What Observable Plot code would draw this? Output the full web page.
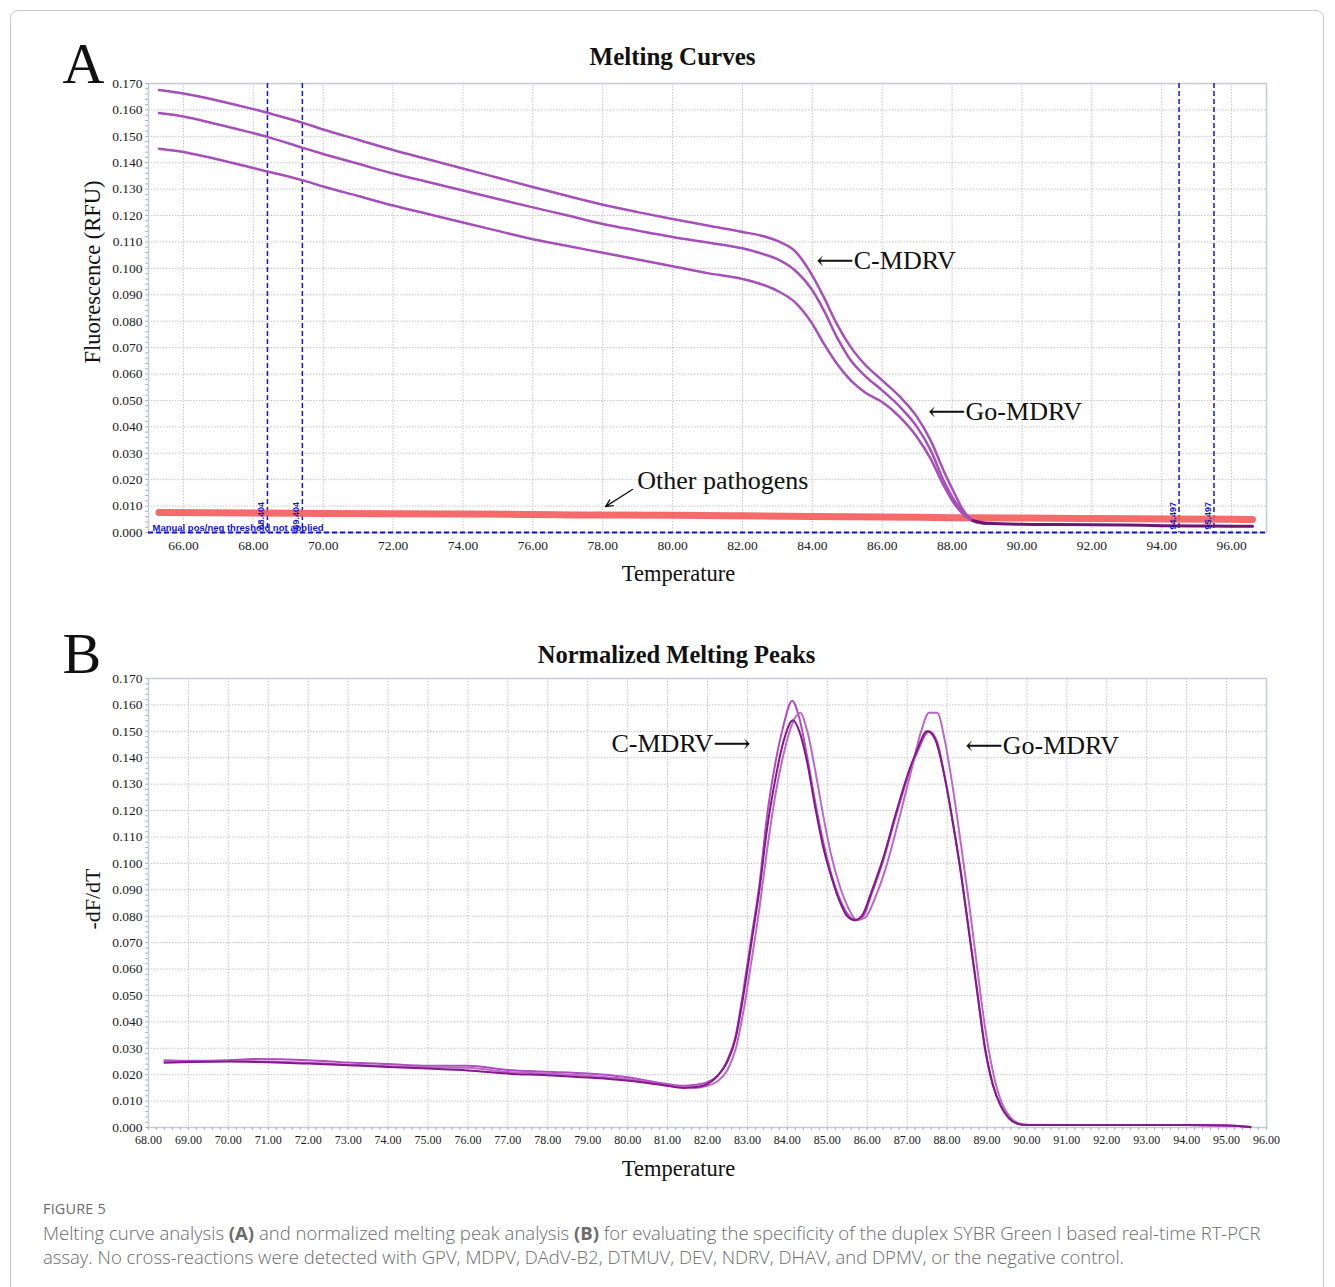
<!DOCTYPE html>
<html>
<head>
<meta charset="utf-8">
<script src="https://cdn.jsdelivr.net/npm/d3@7"></script>
<script src="https://cdn.jsdelivr.net/npm/@observablehq/plot@0.6"></script>
<style>
  html, body { margin: 0; padding: 0; background: #fff; }
  #wrap { position: relative; width: 1335px; height: 1287px; overflow: hidden; background: #fff; }
  #border { position: absolute; left: 10px; top: 10px; width: 1314px; height: 1320px; border: 1px solid #c9c9c9; border-radius: 8px; box-sizing: border-box; }
  .panel { position: absolute; left: 0; }
  #caption { position: absolute; left: 43px; top: 1199px; width: 1285px; font-family: "Open Sans", "Noto Sans", sans-serif; color: #6b6b6b; }
  #caption .fig { font-size: 14.4px; letter-spacing: 0.2px; line-height: 20px; }
  #caption p { margin: 2px 0 0 0; font-size: 18.5px; font-weight: 300; line-height: 24px; white-space: nowrap; }
  #caption b { font-weight: 700; }
</style>
</head>
<body>
<div id="wrap">
  <div id="border"></div>
  <div id="panelA" class="panel" style="top:0px"></div>
  <div id="panelB" class="panel" style="top:600px"></div>
  <div id="caption">
    <div class="fig">FIGURE 5</div>
    <p>Melting curve analysis <b>(A)</b> and normalized melting peak analysis <b>(B)</b> for evaluating the specificity of the duplex SYBR Green I based real-time RT-PCR<br>assay. No cross-reactions were detected with GPV, MDPV, DAdV-B2, DTMUV, DEV, NDRV, DHAV, and DPMV, or the negative control.</p>
  </div>
</div>
<script>
// ---------------- DATA ----------------
// Panel A: melting curves (temperature, fluorescence RFU)
const tA = [65.3, 66, 67, 68, 68.4, 69.4, 70, 71, 72, 73, 74, 75, 76, 77, 78, 79, 80, 81, 82, 82.5, 83, 83.5, 84, 84.33, 84.7, 85.1, 85.5, 86, 86.5, 87, 87.4, 87.75, 88.1, 88.3, 88.5, 88.7, 89.0];
const vA1 = [0.1675, 0.1662, 0.1635, 0.1603, 0.1589, 0.1552, 0.1526, 0.1487, 0.1448, 0.1413, 0.1378, 0.1343, 0.1308, 0.1274, 0.1241, 0.1213, 0.1187, 0.1162, 0.1138, 0.1125, 0.1104, 0.1066, 0.0973, 0.0891, 0.0790, 0.0702, 0.0637, 0.0576, 0.0515, 0.0437, 0.0345, 0.0237, 0.0140, 0.0088, 0.0055, 0.0040, 0.0033];
const vA2 = [0.1588, 0.1575, 0.1545, 0.1512, 0.1498, 0.1457, 0.1433, 0.1396, 0.1359, 0.1327, 0.1295, 0.1263, 0.1231, 0.1200, 0.1168, 0.1143, 0.1119, 0.1098, 0.1076, 0.1058, 0.1035, 0.0993, 0.0917, 0.0841, 0.0741, 0.0652, 0.0594, 0.0538, 0.0477, 0.0399, 0.0308, 0.0199, 0.0115, 0.0080, 0.0054, 0.0040, 0.0033];
const vA3 = [0.1453, 0.1441, 0.1412, 0.1380, 0.1367, 0.1334, 0.1310, 0.1274, 0.1238, 0.1206, 0.1174, 0.1142, 0.1110, 0.1085, 0.1059, 0.1034, 0.1008, 0.0982, 0.0960, 0.0942, 0.0915, 0.0872, 0.0790, 0.0715, 0.0640, 0.0576, 0.0531, 0.0494, 0.0438, 0.0361, 0.0276, 0.0180, 0.0102, 0.0072, 0.0050, 0.0038, 0.0033];
// Panel A: melted tail (all positive samples overlapping)
const tTail = [88.6, 89.0, 90, 91, 92, 93, 94, 95, 96, 96.6];
const vTail = [0.0045, 0.0035, 0.0031, 0.0030, 0.0029, 0.0028, 0.0026, 0.0025, 0.0024, 0.0024];
// Panel A: other pathogens / negative control (red band)
const tOther = [65.3, 68, 70, 72, 74, 76, 78, 80, 82, 84, 86, 88, 90, 92, 94, 96, 96.6];
const vOther = [0.0076, 0.0074, 0.0072, 0.0071, 0.0070, 0.0068, 0.0066, 0.0065, 0.0063, 0.0061, 0.0059, 0.0056, 0.0055, 0.0053, 0.0051, 0.0050, 0.0049];
// Panel A: threshold markers
const thresholdTemps = [68.404, 69.404, 94.497, 95.497];
const thresholdLabels = ["68.404", "69.404", "94.497", "95.497"];

// Panel B: normalized melting peaks (-dF/dT)
const tB1 = [68.4, 69, 70, 70.6, 72, 73, 74, 75, 76, 77, 78, 79, 79.9, 80.9, 81.4, 81.7, 82.0, 82.25, 82.5, 82.7, 82.9, 83.1, 83.3, 83.5, 83.7, 83.9, 84.12, 84.3, 84.5, 84.7, 84.9, 85.1, 85.3, 85.5, 85.7, 85.9, 86.1, 86.4, 86.7, 87.0, 87.25, 87.55, 87.75, 87.95, 88.15, 88.35, 88.55, 88.75, 88.95, 89.15, 89.35, 89.55, 89.75, 90.0, 91, 92, 93, 94, 95, 95.3, 95.6];
const vB1 = [0.0255, 0.0253, 0.0255, 0.0259, 0.0255, 0.0246, 0.0240, 0.0234, 0.0234, 0.0218, 0.0211, 0.0204, 0.0192, 0.0167, 0.0158, 0.0162, 0.0172, 0.0195, 0.0256, 0.0344, 0.0520, 0.0720, 0.0920, 0.1190, 0.1380, 0.1520, 0.1616, 0.1550, 0.1400, 0.1230, 0.1080, 0.0960, 0.0870, 0.0810, 0.0785, 0.0800, 0.0880, 0.1010, 0.1170, 0.1320, 0.1420, 0.1500, 0.1460, 0.1320, 0.1150, 0.0960, 0.0740, 0.0520, 0.0300, 0.0160, 0.0080, 0.0035, 0.0015, 0.0009, 0.0009, 0.0009, 0.0009, 0.0009, 0.0008, 0.0006, 0.0002];
const tB2 = [68.4, 69, 70, 71, 72, 73, 74, 75, 76, 77, 78, 79, 79.9, 80.9, 81.4, 81.7, 82.0, 82.25, 82.5, 82.7, 82.9, 83.1, 83.3, 83.5, 83.7, 83.9, 84.1, 84.32, 84.5, 84.7, 84.9, 85.1, 85.3, 85.5, 85.75, 85.95, 86.2, 86.5, 86.8, 87.1, 87.35, 87.55, 87.75, 87.95, 88.15, 88.35, 88.55, 88.75, 88.95, 89.15, 89.35, 89.55, 89.75, 90.0, 91, 92, 93, 94, 95, 95.3, 95.6];
const vB2 = [0.0249, 0.0249, 0.0252, 0.0250, 0.0245, 0.0238, 0.0232, 0.0228, 0.0226, 0.0210, 0.0204, 0.0196, 0.0185, 0.0163, 0.0152, 0.0150, 0.0158, 0.0175, 0.0218, 0.0294, 0.0440, 0.0630, 0.0830, 0.1060, 0.1260, 0.1410, 0.1520, 0.1570, 0.1500, 0.1350, 0.1180, 0.1030, 0.0920, 0.0840, 0.0785, 0.0795, 0.0870, 0.1000, 0.1170, 0.1350, 0.1500, 0.1570, 0.1570, 0.1460, 0.1280, 0.1070, 0.0850, 0.0610, 0.0380, 0.0210, 0.0100, 0.0045, 0.0018, 0.0010, 0.0009, 0.0009, 0.0009, 0.0009, 0.0008, 0.0006, 0.0002];
const tB3 = [68.4, 69, 70, 71, 72, 73, 74, 75, 76, 77, 78, 79, 79.9, 80.9, 81.4, 81.7, 82.0, 82.25, 82.5, 82.7, 82.9, 83.1, 83.3, 83.5, 83.7, 83.9, 84.14, 84.3, 84.5, 84.7, 84.9, 85.1, 85.3, 85.5, 85.7, 85.9, 86.1, 86.4, 86.7, 87.0, 87.25, 87.5, 87.7, 87.95, 88.15, 88.35, 88.55, 88.75, 88.95, 89.15, 89.35, 89.55, 89.75, 90.0, 91, 92, 93, 94, 95, 95.3, 95.6];
const vB3 = [0.0245, 0.0248, 0.0250, 0.0247, 0.0242, 0.0236, 0.0229, 0.0223, 0.0216, 0.0204, 0.0198, 0.0189, 0.0179, 0.0160, 0.0150, 0.0153, 0.0165, 0.0195, 0.0250, 0.0335, 0.0500, 0.0700, 0.0900, 0.1140, 0.1320, 0.1460, 0.1542, 0.1500, 0.1380, 0.1210, 0.1060, 0.0950, 0.0860, 0.0800, 0.0785, 0.0810, 0.0890, 0.1020, 0.1180, 0.1330, 0.1430, 0.1500, 0.1470, 0.1320, 0.1150, 0.0960, 0.0740, 0.0520, 0.0300, 0.0160, 0.0080, 0.0035, 0.0015, 0.0009, 0.0009, 0.0009, 0.0009, 0.0009, 0.0008, 0.0006, 0.0002];

// Ticks
const xTicksA = [66, 68, 70, 72, 74, 76, 78, 80, 82, 84, 86, 88, 90, 92, 94, 96];
const xTicksB = [68, 69, 70, 71, 72, 73, 74, 75, 76, 77, 78, 79, 80, 81, 82, 83, 84, 85, 86, 87, 88, 89, 90, 91, 92, 93, 94, 95, 96];
const yTicks = [0, 0.01, 0.02, 0.03, 0.04, 0.05, 0.06, 0.07, 0.08, 0.09, 0.10, 0.11, 0.12, 0.13, 0.14, 0.15, 0.16, 0.17];

// Annotations
const annotationsA = [
  {t: 84.12, v: 0.1030, label: "⟵C-MDRV"},
  {t: 87.32, v: 0.0458, label: "⟵Go-MDRV"},
  {t: 78.99, v: 0.0197, label: "Other pathogens"}
];
const pathogenArrow = [{t1: 78.85, v1: 0.0163, t2: 78.08, v2: 0.0098}];
const annotationsBRight = [{t: 83.08, v: 0.1454, label: "C-MDRV⟶"}];
const annotationsBLeft = [{t: 88.46, v: 0.1446, label: "⟵Go-MDRV"}];

// ---------------- BUILD ----------------
const serif = "'Liberation Serif', 'Times New Roman', 'DejaVu Serif', serif";
const blue = "#1515c8";
const gridStyle = {stroke: "#c4c4c4", strokeOpacity: 1, strokeDasharray: "1.5,1.5", strokeWidth: 1};
const fmt3 = d3.format(".3f");
const fmt2 = d => d.toFixed(2);
const minorY = d3.range(0, 0.1701, 0.002);

const toRows = (name, ts, vs) => ts.map((t, i) => ({name, t, v: vs[i]}));
const curvesA = [
  ...toRows("A1", tA, vA1), ...toRows("A2", tA, vA2), ...toRows("A3", tA, vA3)
];
const tailA = toRows("tail", tTail, vTail);
const otherA = toRows("other", tOther, vOther);
const thresholdRows = thresholdTemps.map((t, i) => ({t, v: 0, label: thresholdLabels[i]}));

const plotA = Plot.plot({
  width: 1335, height: 600,
  marginLeft: 148, marginRight: 69, marginTop: 83, marginBottom: 68,
  x: {domain: [65, 97]},
  y: {domain: [0, 0.17]},
  style: {fontFamily: serif, fontSize: "13.5px", color: "#1a1a1a", background: "transparent", overflow: "visible"},
  marks: [
    Plot.gridX(xTicksA, gridStyle),
    Plot.gridY(yTicks, gridStyle),
    Plot.frame({stroke: "#c3cbd8", strokeWidth: 1.5}),
    Plot.axisY(minorY, {tickSize: 3, tickFormat: () => "", stroke: "#a9b2c2", label: null}),
    Plot.axisY(yTicks, {tickSize: 0, tickPadding: 6, tickFormat: fmt3, label: null}),
    Plot.axisX(xTicksA, {tickSize: 0, tickPadding: 8, tickFormat: fmt2, label: null}),
    Plot.ruleX(thresholdTemps, {stroke: blue, strokeWidth: 1.5, strokeDasharray: "5,3"}),
    Plot.line(otherA, {x: "t", y: "v", stroke: "#f45d5d", strokeWidth: 7, strokeOpacity: 0.92, curve: "monotone-x"}),
    Plot.line(curvesA, {x: "t", y: "v", z: "name", stroke: "#a64fba", strokeWidth: 2.5, curve: "monotone-x"}),
    Plot.line(tailA, {x: "t", y: "v", stroke: "#6c1673", strokeWidth: 3, curve: "monotone-x"}),
    Plot.ruleY([0], {stroke: blue, strokeWidth: 2, strokeDasharray: "5,3"}),
    Plot.text(thresholdRows, {x: "t", y: "v", text: "label", rotate: -90, textAnchor: "start", lineAnchor: "middle", dx: -6, dy: -3, fontSize: 9, fontWeight: "bold", fontFamily: "'Liberation Sans', Arial, sans-serif", fill: blue}),
    Plot.text(["Manual pos/neg threshold not applied"], {frameAnchor: "bottom-left", textAnchor: "start", lineAnchor: "bottom", dx: 4, dy: -2, fontSize: 9.5, fontWeight: "bold", fontFamily: "'Liberation Sans', Arial, sans-serif", fill: blue}),
    Plot.text(annotationsA, {x: "t", y: "v", text: "label", textAnchor: "start", lineAnchor: "middle", fontSize: 26, fill: "#111"}),
    Plot.arrow(pathogenArrow, {x1: "t1", y1: "v1", x2: "t2", y2: "v2", stroke: "#111", strokeWidth: 1.3, headLength: 9, headAngle: 50}),
    Plot.text(["A"], {frameAnchor: "top-left", textAnchor: "start", lineAnchor: "bottom", dx: -86, dy: -1, fontSize: 58, fill: "#111"}),
    Plot.text(["Melting Curves"], {frameAnchor: "top", textAnchor: "middle", lineAnchor: "bottom", dx: -35, dy: -19, fontSize: 25, fontWeight: "bold", fill: "#111"}),
    Plot.text(["Fluorescence (RFU)"], {frameAnchor: "left", rotate: -90, textAnchor: "middle", lineAnchor: "middle", dx: -56, dy: -36, fontSize: 22.5, fill: "#111"}),
    Plot.text(["Temperature"], {frameAnchor: "bottom", textAnchor: "middle", lineAnchor: "bottom", dx: -29, dy: 48, fontSize: 22.5, fill: "#111"})
  ]
});
document.getElementById("panelA").appendChild(plotA);

const curvesB = [
  ...toRows("B1", tB1, vB1), ...toRows("B2", tB2, vB2), ...toRows("B3", tB3, vB3)
];
const colorB = {B1: "#b24cc2", B2: "#bc68cb", B3: "#84188a"};

const plotB = Plot.plot({
  width: 1335, height: 600,
  marginLeft: 148, marginRight: 69, marginTop: 78, marginBottom: 73,
  x: {domain: [68, 96]},
  y: {domain: [0, 0.17]},
  style: {fontFamily: serif, fontSize: "13.5px", color: "#1a1a1a", background: "transparent", overflow: "visible"},
  marks: [
    Plot.gridX(xTicksB, gridStyle),
    Plot.gridY(yTicks, gridStyle),
    Plot.frame({stroke: "#c3cbd8", strokeWidth: 1.5}),
    Plot.axisY(minorY, {tickSize: 3, tickFormat: () => "", stroke: "#a9b2c2", label: null}),
    Plot.axisY(yTicks, {tickSize: 0, tickPadding: 6, tickFormat: fmt3, label: null}),
    Plot.axisX(d3.range(68, 96.01, 0.2), {tickSize: 3, tickFormat: () => "", stroke: "#a9b2c2", label: null}),
    Plot.axisX(xTicksB, {tickSize: 0, tickPadding: 8, tickFormat: fmt2, fontSize: 12, label: null}),
    Plot.line(curvesB, {x: "t", y: "v", z: "name", stroke: d => colorB[d.name], strokeWidth: 2, curve: "monotone-x"}),
    Plot.text(annotationsBRight, {x: "t", y: "v", text: "label", textAnchor: "end", lineAnchor: "middle", fontSize: 26, fill: "#111"}),
    Plot.text(annotationsBLeft, {x: "t", y: "v", text: "label", textAnchor: "start", lineAnchor: "middle", fontSize: 26, fill: "#111"}),
    Plot.text(["B"], {frameAnchor: "top-left", textAnchor: "start", lineAnchor: "bottom", dx: -86, dy: -6, fontSize: 58, fill: "#111"}),
    Plot.text(["Normalized Melting Peaks"], {frameAnchor: "top", textAnchor: "middle", lineAnchor: "bottom", dx: -31, dy: -16, fontSize: 24.5, fontWeight: "bold", fill: "#111"}),
    Plot.text(["-dF/dT"], {frameAnchor: "left", rotate: -90, textAnchor: "middle", lineAnchor: "middle", dx: -56, dy: -4, fontSize: 22, fill: "#111"}),
    Plot.text(["Temperature"], {frameAnchor: "bottom", textAnchor: "middle", lineAnchor: "bottom", dx: -29, dy: 48, fontSize: 22.5, fill: "#111"})
  ]
});
document.getElementById("panelB").appendChild(plotB);
</script>
</body>
</html>
